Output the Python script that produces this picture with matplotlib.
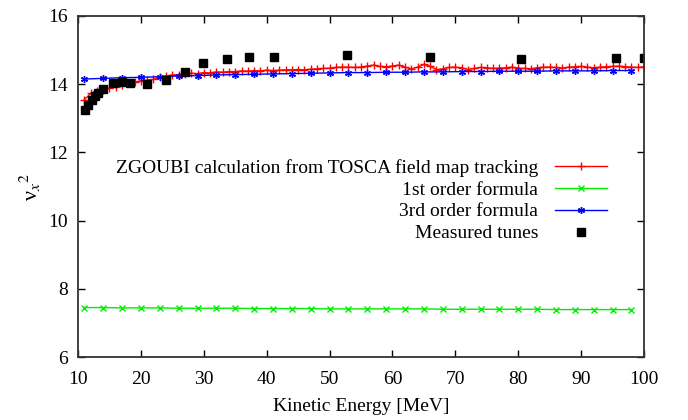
import matplotlib
matplotlib.use("Agg")
import matplotlib.pyplot as plt

# ZGOUBI tracking (1 MeV steps, 11..100)
ke_track = list(range(11, 101))
nu2_track = [13.54, 13.73, 13.80, 13.84, 13.88, 13.92, 13.97, 14.02, 14.06, 14.10,
             14.12, 14.14, 14.21, 14.24, 14.27, 14.28, 14.29, 14.32, 14.31, 14.34,
             14.33, 14.36, 14.35, 14.37, 14.37, 14.39, 14.38, 14.40, 14.39, 14.41,
             14.40, 14.41, 14.42, 14.42, 14.43, 14.42, 14.44, 14.45, 14.46, 14.47,
             14.49, 14.50, 14.50, 14.49, 14.50, 14.53, 14.56, 14.52, 14.51, 14.53,
             14.56, 14.50, 14.45, 14.50, 14.58, 14.52, 14.43, 14.45, 14.49, 14.50,
             14.48, 14.43, 14.46, 14.49, 14.48, 14.46, 14.47, 14.48, 14.50, 14.47,
             14.46, 14.45, 14.48, 14.50, 14.50, 14.49, 14.47, 14.50, 14.51, 14.52,
             14.50, 14.48, 14.50, 14.51, 14.52, 14.53, 14.51, 14.50, 14.49, 14.51]

# formulas (3 MeV steps, 11..98)
ke_formula = list(range(11, 99, 3))
nu2_first = [7.45, 7.45, 7.44, 7.44, 7.44, 7.43, 7.43, 7.43, 7.43, 7.42,
             7.42, 7.42, 7.42, 7.41, 7.41, 7.41, 7.41, 7.41, 7.41, 7.40,
             7.40, 7.40, 7.40, 7.40, 7.40, 7.39, 7.39, 7.39, 7.39, 7.39]
nu2_third = [14.15, 14.17, 14.19, 14.20, 14.22, 14.24, 14.25, 14.27, 14.28, 14.29,
             14.30, 14.31, 14.32, 14.33, 14.34, 14.34, 14.35, 14.35, 14.36, 14.36,
             14.37, 14.37, 14.38, 14.38, 14.38, 14.39, 14.39, 14.39, 14.40, 14.40]

# measured tunes
ke_meas = [11.1, 11.6, 12.2, 12.7, 13.2, 14.0, 15.6, 17.0, 18.3, 21.0, 24.0, 27.0,
           29.9, 33.7, 37.2, 41.1, 52.8, 66.0, 80.4, 95.5, 100.0]
nu2_meas = [13.24, 13.39, 13.54, 13.65, 13.74, 13.85, 14.04, 14.07, 14.03, 14.00, 14.12, 14.37,
            14.61, 14.73, 14.79, 14.79, 14.86, 14.79, 14.73, 14.76, 14.76]

plt.rcParams['font.family'] = ['Liberation Serif', 'DejaVu Serif']
plt.rcParams['mathtext.fontset'] = 'stix'

fig = plt.figure(figsize=(6.88, 4.2), dpi=100)
ax = fig.add_axes([0.1134, 0.15, 0.8227, 0.812])

ax.plot(ke_track, nu2_track, '-', color='#ff0000', lw=1, marker='+', ms=6, mew=1,
        label='ZGOUBI calculation from TOSCA field map tracking')
ax.plot(ke_formula, nu2_first, '-', color='#00ee00', lw=1, marker='x', ms=4, mew=1,
        label='1st order formula')
ax.plot(ke_formula, nu2_third, '-', color='#0000ff', lw=1, marker=(6, 2, 0), ms=5, mew=1,
        label='3rd order formula')
ax.plot(ke_meas, nu2_meas, 's', color='black', ms=6, label='Measured tunes')

ax.set_xlim(10, 100)
ax.set_ylim(6, 16)
ax.set_xticks(range(10, 101, 10))
ax.set_yticks(range(6, 17, 2))
ax.tick_params(direction='in', top=True, right=True, length=5, width=1, labelsize=14)
ax.tick_params(axis='x', pad=10)
ax.tick_params(axis='y', pad=7)
for s in ax.spines.values():
    s.set_color('#333333')
    s.set_linewidth(1.3)

ax.set_xlabel('Kinetic Energy [MeV]', fontsize=14, labelpad=7)
ax.set_ylabel('ν$_{x}{}^{2}$', fontsize=16, labelpad=4)

ax.legend(loc='upper right', bbox_to_anchor=(0.949, 0.604), frameon=False, markerfirst=False,
          fontsize=14, handlelength=2.7, labelspacing=0.22, handletextpad=0.85,
          borderaxespad=0)
leg = ax.get_legend()
for t in leg.get_texts():
    t.set_ha('right')
leg._legend_box.align = 'right'

fig.savefig('out.png', dpi=100)
